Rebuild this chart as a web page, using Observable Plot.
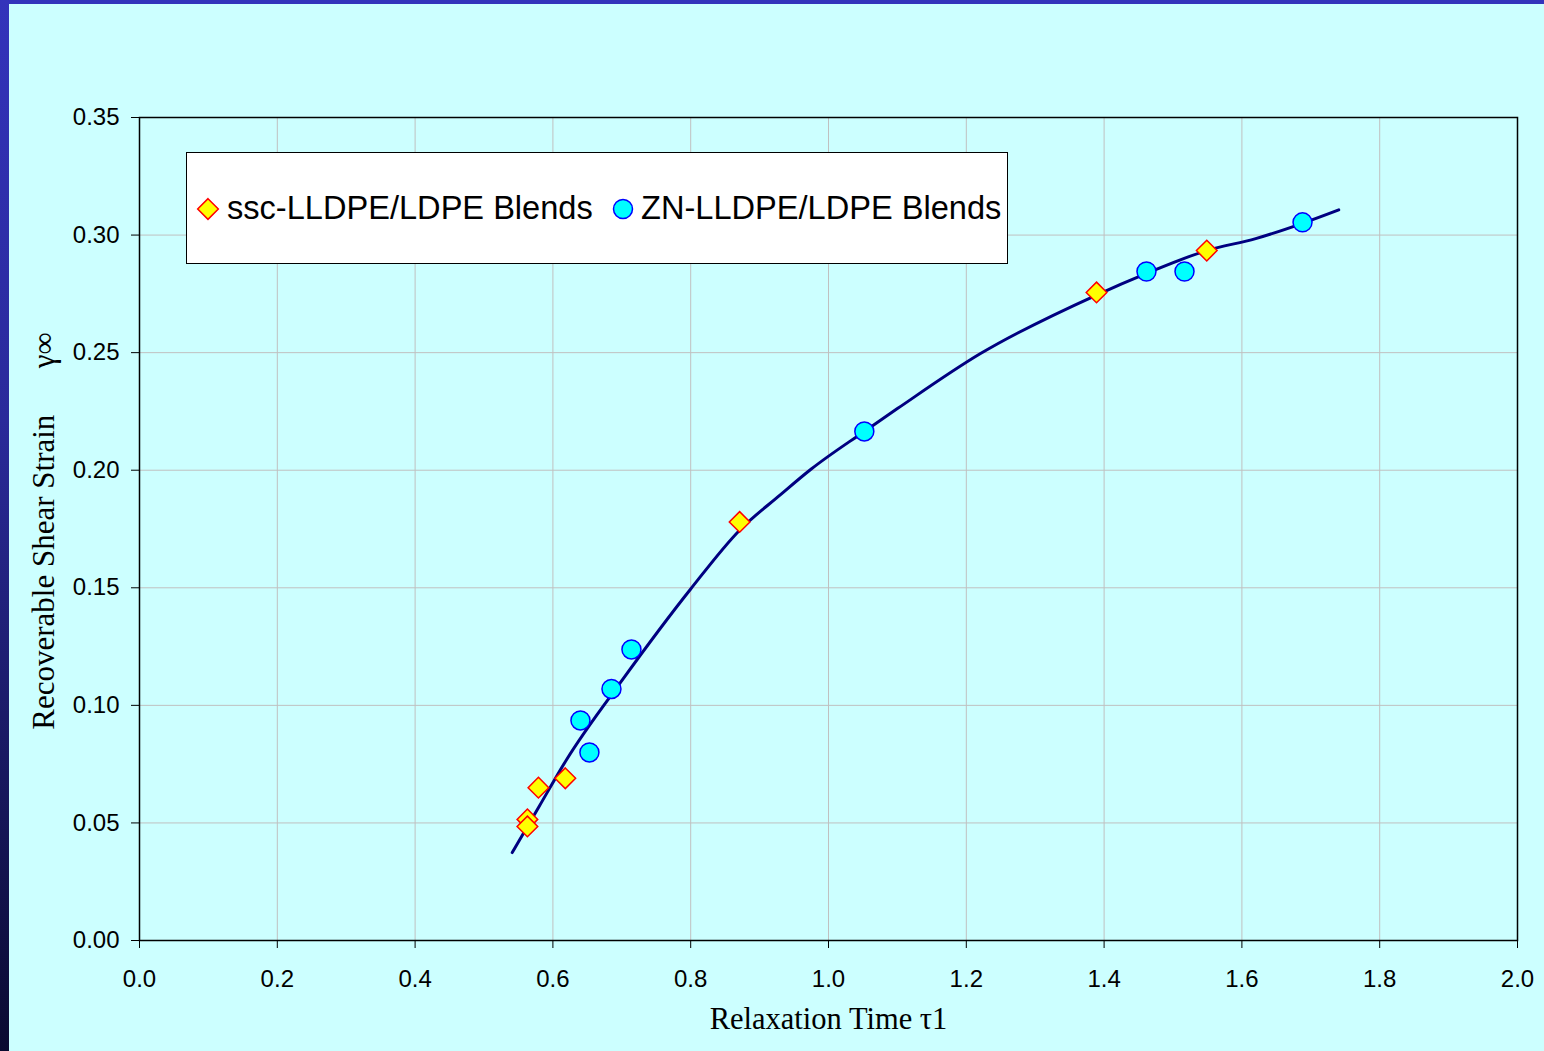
<!DOCTYPE html>
<html>
<head>
<meta charset="utf-8">
<script src="https://cdn.jsdelivr.net/npm/d3@7"></script>
<script src="https://cdn.jsdelivr.net/npm/@observablehq/plot@0.6"></script>
<style>
  html, body { margin: 0; padding: 0; background: #ccffff; }
  #wrap { position: relative; width: 1544px; height: 1051px; overflow: hidden; background: #ccffff; }
  #wrap > svg { position: absolute; left: 0; top: 0; }
  .strip-top { position: absolute; left: 0; top: 0; width: 1544px; height: 4px; background: #3333bb; }
  .strip-left { position: absolute; left: 0; top: 0; width: 9px; height: 1051px;
                background: linear-gradient(to bottom, #3333bb 0%, #2a2a9a 40%, #0a0a30 100%); }
  #legend { position: absolute; left: 186px; top: 152px; width: 822px; height: 112px;
            box-sizing: border-box; background: #ffffff; border: 1px solid #000; }
  #legend svg { display: block; }
</style>
</head>
<body>
<div id="wrap">
  <div class="strip-top"></div>
  <div class="strip-left"></div>
</div>
<script>
// ssc-LLDPE/LDPE blends (diamonds)
const sscTau   = [0.563, 0.563, 0.579, 0.618, 0.871, 1.389, 1.549];
const sscGamma = [0.0515, 0.0485, 0.065, 0.069, 0.178, 0.2756, 0.2934];

// ZN-LLDPE/LDPE blends (circles)
const znTau   = [0.640, 0.653, 0.685, 0.714, 1.052, 1.4615, 1.5167, 1.688];
const znGamma = [0.0936, 0.080, 0.107, 0.1238, 0.2165, 0.2845, 0.2845, 0.3054];

// Fitted trend curve through both series
const fitTau   = [0.541, 0.58, 0.62, 0.70, 0.80, 0.871, 0.93, 0.975, 1.052, 1.10, 1.22, 1.389, 1.46, 1.549, 1.62, 1.688, 1.7406];
const fitGamma = [0.0374, 0.057, 0.077, 0.1105, 0.1495, 0.1745, 0.1895, 0.2005, 0.2165, 0.2262, 0.2495, 0.2745, 0.2835, 0.2934, 0.2985, 0.305, 0.3107];

// Axis ticks
const xTicks = [0, 0.2, 0.4, 0.6, 0.8, 1.0, 1.2, 1.4, 1.6, 1.8, 2.0];
const yTicks = [0, 0.05, 0.10, 0.15, 0.20, 0.25, 0.30, 0.35];

const xTitle = "Relaxation Time \u03c41";
const yTitle = "Recoverable Shear Strain\u00a0\u00a0\u00a0\u00a0\u00a0\u00a0\u03b3\u221e";
const sscLabel = "ssc-LLDPE/LDPE Blends";
const znLabel = "ZN-LLDPE/LDPE Blends";

const ssc = sscTau.map((t, i) => ({tau: t, gamma: sscGamma[i]}));
const zn = znTau.map((t, i) => ({tau: t, gamma: znGamma[i]}));
const fit = fitTau.map((t, i) => ({tau: t, gamma: fitGamma[i]}));

const sansFont = "'Liberation Sans', Arial, sans-serif";
const serifFont = "'Liberation Serif', 'Times New Roman', serif";

const chart = Plot.plot({
  width: 1544,
  height: 1051,
  marginLeft: 139,
  marginRight: 27,
  marginTop: 117,
  marginBottom: 111,
  style: {background: "transparent", color: "#000", fontFamily: sansFont},
  x: {domain: [0, 2]},
  y: {domain: [0, 0.35]},
  marks: [
    Plot.gridX(xTicks, {stroke: "#c0c0c0", strokeOpacity: 1, strokeWidth: 1}),
    Plot.gridY(yTicks, {stroke: "#c0c0c0", strokeOpacity: 1, strokeWidth: 1}),
    Plot.axisX(xTicks, {tickFormat: d3.format(".1f"), tickSize: 8, tickPadding: 21,
      fontSize: 24, fontFamily: sansFont, stroke: "#000", label: null}),
    Plot.axisY(yTicks, {tickFormat: d3.format(".2f"), tickSize: 8, tickPadding: 12,
      fontSize: 24, fontFamily: sansFont, stroke: "#000", label: null}),
    Plot.frame({stroke: "#000", strokeWidth: 1.5}),
    Plot.line(fit, {x: "tau", y: "gamma", curve: "monotone-x", stroke: "#000080", strokeWidth: 3}),
    Plot.dot(ssc, {x: "tau", y: "gamma", symbol: "diamond2", r: 9.3, fill: "#ffff00", stroke: "#ff0000", strokeWidth: 1.5}),
    Plot.dot(zn, {x: "tau", y: "gamma", symbol: "circle", r: 9.5, fill: "#00ffff", stroke: "#0000ff", strokeWidth: 1.5}),
    Plot.text([xTitle], {frameAnchor: "bottom", dy: 88, lineAnchor: "bottom", textAnchor: "middle",
      fontFamily: serifFont, fontSize: 30.5, fill: "#000"}),
    Plot.text([yTitle], {frameAnchor: "left", dx: -86, dy: 2, rotate: -90, lineAnchor: "bottom", textAnchor: "middle",
      fontFamily: serifFont, fontSize: 31, fill: "#000"})
  ]
});

const wrap = document.getElementById("wrap");
wrap.insertBefore(chart, wrap.firstChild);

// Legend box with the two series symbols
const legend = document.createElement("div");
legend.id = "legend";
const ns = "http://www.w3.org/2000/svg";
const lsvg = document.createElementNS(ns, "svg");
lsvg.setAttribute("width", 820);
lsvg.setAttribute("height", 110);
function addSym(pathD, cx, cy, fill, stroke) {
  const p = document.createElementNS(ns, "path");
  p.setAttribute("d", pathD);
  p.setAttribute("transform", `translate(${cx},${cy})`);
  p.setAttribute("fill", fill);
  p.setAttribute("stroke", stroke);
  p.setAttribute("stroke-width", 1.5);
  lsvg.appendChild(p);
}
function addText(str, x, y) {
  const t = document.createElementNS(ns, "text");
  t.setAttribute("x", x);
  t.setAttribute("y", y);
  t.setAttribute("font-family", sansFont);
  t.setAttribute("font-size", 32.6);
  t.setAttribute("fill", "#000");
  t.textContent = str;
  lsvg.appendChild(t);
}
addSym(d3.symbol(d3.symbolDiamond2, Math.PI * 9.3 * 9.3)(), 21, 56, "#ffff00", "#ff0000");
addText(sscLabel, 40, 66);
addSym(d3.symbol(d3.symbolCircle, Math.PI * 9.5 * 9.5)(), 436, 56, "#00ffff", "#0000ff");
addText(znLabel, 454, 66);
legend.appendChild(lsvg);
wrap.appendChild(legend);
</script>
</body>
</html>
